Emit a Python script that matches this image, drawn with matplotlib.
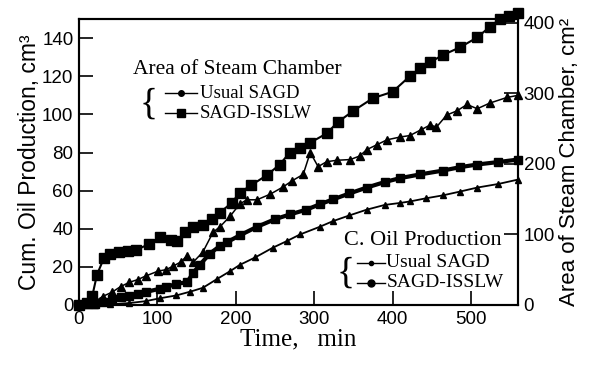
import numpy as np
import matplotlib
matplotlib.use('Agg')
import matplotlib.pyplot as plt

# time (min) and values
t_area_isslw = [0, 10, 17, 23, 32, 40, 51, 62, 73, 89, 103, 118, 125, 135, 146, 158, 170, 180,
                195, 205, 220, 240, 256, 269, 282, 295, 316, 330, 350, 375, 400, 422, 435,
                448, 464, 486, 508, 524, 537, 548, 560]
area_isslw = [0, 3, 13, 43, 67, 72, 75, 77, 78, 86, 96, 92, 90, 103, 111, 113, 122, 131,
              145, 159, 170, 184, 199, 216, 223, 230, 243, 259, 275, 293, 302, 324, 335,
              344, 354, 365, 379, 394, 405, 410, 413]

t_area_usual = [0, 10, 21, 30, 42, 53, 64, 75, 85, 101, 111, 120, 130, 138, 146, 158, 171, 180,
                193, 205, 214, 227, 244, 260, 272, 286, 295, 305, 316, 329, 346, 358, 367,
                380, 393, 410, 422, 436, 448, 456, 469, 482, 495, 508, 524, 546, 560]
area_usual = [0, 1, 5, 12, 18, 26, 32, 36, 41, 48, 50, 55, 61, 70, 61, 75, 103, 111,
              126, 143, 149, 149, 157, 167, 176, 185, 216, 196, 203, 205, 206, 211, 220,
              227, 234, 238, 240, 248, 255, 252, 269, 275, 284, 278, 286, 294, 297]

t_oil_isslw = [0, 20, 30, 42, 53, 64, 75, 85, 103, 111, 124, 138, 146, 154, 167, 180, 189,
               205, 227, 250, 269, 290, 307, 324, 345, 367, 390, 409, 435, 464, 486, 508,
               535, 560]
oil_isslw = [0, 0.5, 1.5, 3, 4, 4.7, 5.5, 6.8, 8.5, 9.4, 11, 12, 17, 21, 27, 31, 33,
             36.5, 41, 45, 47.5, 50, 52.8, 55.4, 58.5, 61.6, 64.5, 66.5, 68.5, 70.5, 72.3, 73.7,
             75, 76.3]

t_oil_usual = [0, 20, 40, 64, 85, 103, 124, 142, 158, 176, 193, 205, 225, 247, 265, 282, 307,
               324, 345, 367, 390, 409, 422, 443, 464, 486, 508, 535, 560]
oil_usual = [0, 0.1, 0.3, 1, 2, 3.5, 5, 7, 9, 13.6, 17.8, 21, 25, 30, 33.5, 37, 41,
             44, 47, 50, 52.5, 53.5, 54.3, 56, 57.5, 59.5, 61.6, 63.5, 65.8]

plt.rcParams['font.family'] = 'Liberation Sans'
serif = 'Liberation Serif'

fig = plt.figure(figsize=(5.97, 3.67), dpi=100)
ax = fig.add_axes([0.1323, 0.169, 0.7354, 0.779])
ax2 = ax.twinx()

# oil production on the left axis
ax.plot(t_oil_isslw, oil_isslw, 'k-', marker='s', ms=5.5, lw=3, clip_on=False)
ax.plot(t_oil_usual, oil_usual, 'k-', marker='^', ms=5, lw=1.3, clip_on=False)

# steam chamber area on the right axis
ax2.plot(t_area_isslw, area_isslw, 'k-', marker='s', ms=7, lw=1.5, clip_on=False)
ax2.plot(t_area_usual, area_usual, 'k-', marker='^', ms=5.5, lw=1.1, clip_on=False)

ax.set_xlim(0, 560)
ax.set_ylim(0, 150)
ax2.set_ylim(0, 405)
ax.set_xticks([0, 100, 200, 300, 400, 500])
ax.set_yticks(np.arange(0, 141, 20))
ax2.set_yticks([0, 100, 200, 300, 400])

for a in (ax, ax2):
    a.tick_params(direction='in', length=10, width=1.2, labelsize=13.5, pad=4)
    for s in a.spines.values():
        s.set_linewidth(1.5)

ax.set_ylabel('Cum. Oil Production, cm³', fontsize=16.5, labelpad=1)
ax2.set_ylabel('Area of Steam Chamber, cm²', fontsize=16, labelpad=3)
ax.set_xlabel('Time,   min', fontsize=18, family=serif, labelpad=1)

# hand-made legends like the original
tr = ax.transAxes
ax.text(0.123, 0.825, 'Area of Steam Chamber', transform=tr, fontsize=15.5,
        family=serif, va='center')
ax.text(0.158, 0.703, '{', transform=tr, fontsize=27, family=serif,
        va='center', ha='center')
ax.plot([0.196, 0.269], [0.741, 0.741], 'k-', lw=1, transform=tr, clip_on=False)
ax.plot([0.232], [0.741], 'ko', ms=4, transform=tr, clip_on=False)
ax.text(0.276, 0.741, 'Usual SAGD', transform=tr, fontsize=13.5,
        family=serif, va='center')
ax.plot([0.196, 0.269], [0.671, 0.671], 'k-', lw=1, transform=tr, clip_on=False)
ax.plot([0.232], [0.671], 'ks', ms=5.5, transform=tr, clip_on=False)
ax.text(0.276, 0.671, 'SAGD-ISSLW', transform=tr, fontsize=13.5,
        family=serif, va='center')

ax.text(0.9636, 0.227, 'C. Oil Production', transform=tr, fontsize=16,
        family=serif, va='center', ha='right')
ax.text(0.608, 0.110, '{', transform=tr, fontsize=27, family=serif,
        va='center', ha='center')
ax.plot([0.633, 0.697], [0.147, 0.147], 'k-', lw=1, transform=tr, clip_on=False)
ax.plot([0.665], [0.147], 'ko', ms=3, transform=tr, clip_on=False)
ax.text(0.70, 0.147, 'Usual SAGD', transform=tr, fontsize=14,
        family=serif, va='center')
ax.plot([0.633, 0.697], [0.077, 0.077], 'k-', lw=1, transform=tr, clip_on=False)
ax.plot([0.665], [0.077], 'ko', ms=5, transform=tr, clip_on=False)
ax.text(0.70, 0.077, 'SAGD-ISSLW', transform=tr, fontsize=14,
        family=serif, va='center')

plt.savefig('out.png', dpi=100)
